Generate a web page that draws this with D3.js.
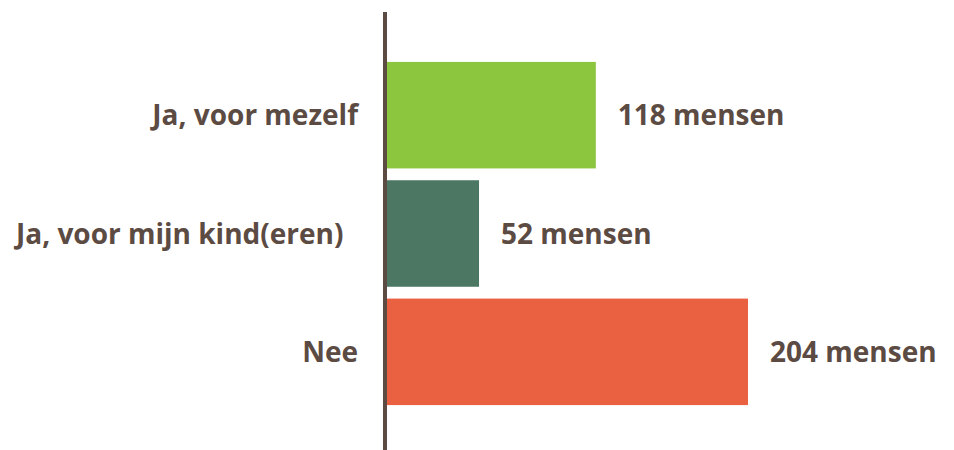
<!DOCTYPE html>
<html>
<head>
<meta charset="utf-8">
<script src="https://cdn.jsdelivr.net/npm/d3@7"></script>
<style>
  body { margin: 0; background: #fff; }
  text { font-family: "Open Sans", sans-serif; font-weight: 700; fill: #5c4b43; }
</style>
</head>
<body>
<svg id="chart"></svg>
<script>
var width = 954,
    height = 450;

// data
var categories = ["Ja, voor mezelf", "Ja, voor mijn kind(eren)\u00a0\u00a0", "Nee"];
var counts = [118, 52, 204];
var valueLabels = ["118 mensen", "52 mensen", "204 mensen"];
var barColors = ["#8cc63f", "#4b7763", "#ea6142"];

var svg = d3.select("#chart")
    .attr("width", width)
    .attr("height", height);

var x = d3.scaleLinear()
    .domain([0, d3.max(counts)])
    .range([387, 748]);

var y = d3.scaleBand()
    .domain(categories)
    .range([56, 411])
    .paddingInner(0.1)
    .paddingOuter(0.05);

// bars
svg.selectAll("rect.bar")
    .data(counts)
    .enter().append("rect")
    .attr("class", "bar")
    .attr("x", x(0))
    .attr("y", function(d, i) { return y(categories[i]); })
    .attr("width", function(d) { return x(d) - x(0); })
    .attr("height", y.bandwidth())
    .style("fill", function(d, i) { return barColors[i]; });

// vertical axis line
svg.append("line")
    .attr("x1", 385).attr("x2", 385)
    .attr("y1", 12).attr("y2", height)
    .style("stroke", "#5c4b43")
    .style("stroke-width", 4);

// category labels
svg.selectAll("text.cat")
    .data(categories)
    .enter().append("text")
    .attr("class", "cat")
    .attr("x", 358)
    .attr("y", function(d) { return y(d) + y.bandwidth() / 2; })
    .attr("dy", "0.36em")
    .attr("text-anchor", "end")
    .style("font-size", "28px")
    .style("white-space", "pre")
    .text(function(d) { return d; });

// value labels
svg.selectAll("text.val")
    .data(counts)
    .enter().append("text")
    .attr("class", "val")
    .attr("x", function(d) { return x(d) + 22; })
    .attr("y", function(d, i) { return y(categories[i]) + y.bandwidth() / 2; })
    .attr("dy", "0.36em")
    .style("font-size", "28px")
    .text(function(d, i) { return valueLabels[i]; });
</script>
</body>
</html>
